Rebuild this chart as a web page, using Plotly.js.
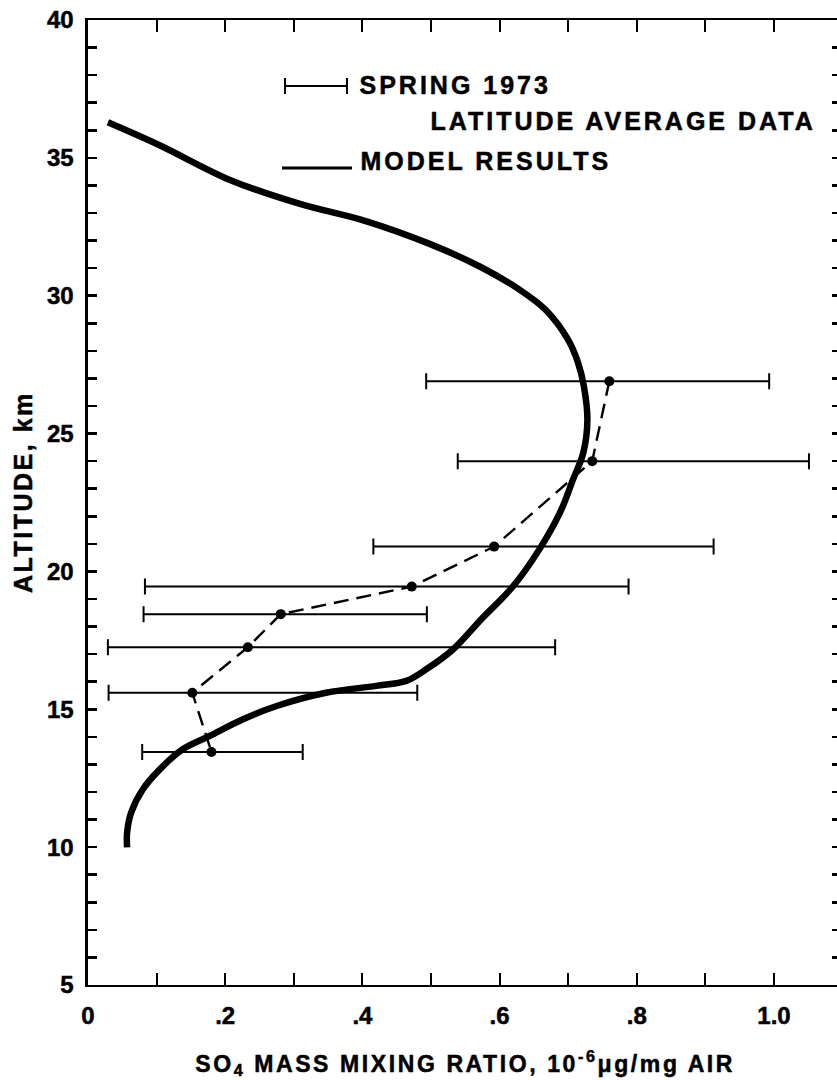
<!DOCTYPE html>
<html>
<head>
<meta charset="utf-8">
<script src="https://cdn.plot.ly/plotly-3.0.1.min.js"></script>
<style>
  html, body { margin: 0; padding: 0; background: #fff; overflow: hidden; }
  #chart { width: 841px; height: 1080px; }
  #chart text { stroke: #000; stroke-width: 0.5px; }
  g.annotation[data-index="0"] text,
  g.annotation[data-index="1"] text,
  g.annotation[data-index="2"] text { letter-spacing: 3px; }
  g.annotation[data-index="3"] text { letter-spacing: 2.5px; }
  g.annotation[data-index="4"] text { letter-spacing: 2.6px; }
</style>
</head>
<body>
<div id="chart"></div>
<script>
// Model results curve (SO4 mass mixing ratio vs altitude)
const modelX   = [0.029, 0.105, 0.207, 0.309, 0.406, 0.498, 0.571, 0.629, 0.667, 0.700, 0.714, 0.723, 0.728, 0.722, 0.707, 0.688, 0.658, 0.620, 0.573, 0.532, 0.493, 0.464, 0.420, 0.347, 0.275, 0.226, 0.177, 0.138, 0.105, 0.080, 0.063, 0.057, 0.057];
const modelAlt = [36.29, 35.45, 34.20, 33.33, 32.70, 31.88, 31.06, 30.22, 29.49, 28.40, 27.6, 26.7, 25.5, 24.30, 23.33, 22.13, 20.80, 19.47, 18.26, 17.17, 16.45, 16.03, 15.85, 15.60, 15.12, 14.64, 14.03, 13.55, 12.83, 12.10, 11.26, 10.53, 9.99];

// Spring 1973 latitude average data
const dataAlt  = [26.9, 24.0, 20.9, 19.45, 18.45, 17.25, 15.6, 13.45];
const dataX    = [0.760, 0.735, 0.592, 0.472, 0.281, 0.233, 0.152, 0.180];
const dataLow  = [0.493, 0.539, 0.416, 0.083, 0.081, 0.029, 0.030, 0.079];
const dataHigh = [0.993, 1.051, 0.912, 0.788, 0.494, 0.681, 0.480, 0.313];

// Ticks
const xTickVals = [0, 0.1, 0.2, 0.3, 0.4, 0.5, 0.6, 0.7, 0.8, 0.9, 1.0];
const xTickText = ['0', '', '.2', '', '.4', '', '.6', '', '.8', '', '1.0'];
const yTickVals = [];
const yTickText = [];
for (let a = 5; a <= 40; a++) { yTickVals.push(a); yTickText.push(a % 5 === 0 ? String(a) : ''); }

const errPlus  = dataHigh.map((h, i) => h - dataX[i]);
const errMinus = dataLow.map((l, i) => dataX[i] - l);

const FAM = 'Liberation Sans, Arial, sans-serif';
const tickFont = { family: FAM, size: 24, color: '#000', weight: 700 };
const labFont  = { family: FAM, size: 25, color: '#000', weight: 700 };

const traces = [
  {
    type: 'scatter', mode: 'lines', x: modelX, y: modelAlt,
    line: { color: '#000', width: 6.5, shape: 'spline', smoothing: 1.0 },
    hoverinfo: 'skip', showlegend: false
  },
  {
    type: 'scatter', mode: 'lines+markers', x: dataX, y: dataAlt,
    line: { color: '#000', width: 2.4, dash: '15px,8px' },
    marker: { color: '#000', size: 10 },
    error_x: { type: 'data', symmetric: false, array: errPlus, arrayminus: errMinus,
               color: '#000', thickness: 2, width: 8 },
    hoverinfo: 'skip', showlegend: false
  }
];

const W = 753, H = 965;
function px(x) { return (x - 88) / W; }
function py(y) { return (985 - y) / H; }

const layout = {
  width: 841, height: 1080,
  margin: { l: 88, r: 0, t: 20, b: 95, pad: 0 },
  paper_bgcolor: '#fff', plot_bgcolor: '#fff',
  showlegend: false,
  xaxis: {
    range: [0, 1.0977], tickvals: xTickVals, ticktext: xTickText,
    ticks: 'inside', ticklen: 12, tickwidth: 2, tickcolor: '#000',
    showline: true, linewidth: 2, linecolor: '#000', mirror: 'ticks',
    showgrid: false, zeroline: false, tickfont: tickFont, ticklabelstandoff: 8
  },
  yaxis: {
    range: [5, 40], tickvals: yTickVals, ticktext: yTickText,
    ticks: 'inside', ticklen: 9, tickwidth: 2.5, tickcolor: '#000',
    showline: true, linewidth: 3.5, linecolor: '#000', mirror: 'ticks',
    showgrid: false, zeroline: false, tickfont: tickFont, ticklabelstandoff: 6
  },
  shapes: [
    { type: 'line', xref: 'paper', yref: 'paper', x0: px(285), x1: px(347), y0: py(86), y1: py(86), line: { color: '#000', width: 2 } },
    { type: 'line', xref: 'paper', yref: 'paper', x0: px(285), x1: px(285), y0: py(78), y1: py(94), line: { color: '#000', width: 2 } },
    { type: 'line', xref: 'paper', yref: 'paper', x0: px(347), x1: px(347), y0: py(78), y1: py(94), line: { color: '#000', width: 2 } },
    { type: 'line', xref: 'paper', yref: 'paper', x0: px(282), x1: px(352), y0: py(168), y1: py(168), line: { color: '#000', width: 3 } }
  ],
  annotations: [
    { xref: 'paper', yref: 'paper', x: px(455), y: py(85), xanchor: 'center', yanchor: 'middle', showarrow: false, text: 'SPRING 1973', font: labFont },
    { xref: 'paper', yref: 'paper', x: px(623), y: py(121), xanchor: 'center', yanchor: 'middle', showarrow: false, text: 'LATITUDE AVERAGE DATA', font: labFont },
    { xref: 'paper', yref: 'paper', x: px(486), y: py(161), xanchor: 'center', yanchor: 'middle', showarrow: false, text: 'MODEL RESULTS', font: labFont },
    { xref: 'paper', yref: 'paper', x: px(23), y: py(492), xanchor: 'center', yanchor: 'middle', showarrow: false, textangle: -90, text: 'ALTITUDE, km', font: { family: FAM, size: 25, color: '#000', weight: 700 } },
    { xref: 'paper', yref: 'paper', x: px(465), y: py(1063), xanchor: 'center', yanchor: 'middle', showarrow: false, text: 'SO<sub>4</sub> MASS MIXING RATIO, 10<sup>-6</sup>μg/mg AIR', font: { family: FAM, size: 23, color: '#000', weight: 700 } }
  ]
};

Plotly.newPlot('chart', traces, layout, { staticPlot: true, displayModeBar: false });
</script>
</body>
</html>
